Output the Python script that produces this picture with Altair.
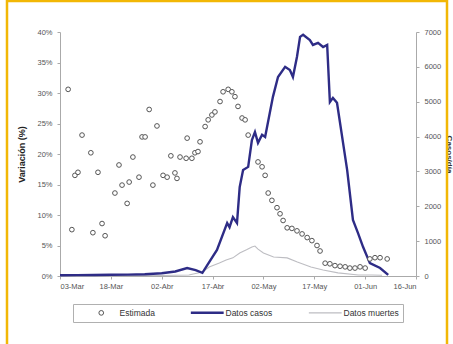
import altair as alt
import pandas as pd

series = ["Estimada", "Datos casos", "Datos muertes"]
x_labels = ["03-Mar", "18-Mar", "02-Abr", "17-Abr", "02-May", "17-May", "01-Jun", "16-Jun"]

# Estimated (%), left axis: day offset from 03-Mar, value in %
est_day = [2.4, 3.5, 4.4, 5.3, 6.5, 9.1, 9.7, 11.2, 12.4, 13.3, 16.2, 17.4, 18.3, 19.8, 20.4,
           21.5, 23.3, 24.2, 25.1, 26.3, 27.4, 28.6, 30.4, 31.6, 32.7, 33.9, 34.5, 35.4, 37.2,
           37.5, 38.9, 39.8, 40.7, 41.3, 42.8, 43.7, 44.8, 45.7, 47.2, 48.1, 49.6, 50.7, 51.6,
           52.5, 53.7, 54.6, 55.5, 58.4, 59.6, 60.5, 61.4, 62.5, 64.0, 64.9, 65.8, 67.0, 68.4,
           69.9, 71.4, 72.9, 74.3, 75.8, 76.7, 78.2, 79.6, 81.1, 82.6, 84.1, 85.5, 87.0, 88.5,
           90.0, 91.4, 92.9, 94.4, 96.5]
est_val = [30.6, 7.6, 16.5, 17.0, 23.1, 20.2, 7.1, 17.0, 8.6, 6.6, 13.6, 18.2, 14.9, 11.9, 15.4,
           19.5, 16.2, 22.8, 22.8, 27.3, 14.9, 24.6, 16.5, 16.2, 19.7, 16.9, 16.0, 19.5, 19.3,
           22.6, 19.3, 20.2, 20.4, 22.0, 24.5, 25.6, 26.4, 26.9, 28.6, 30.2, 30.6, 30.2, 29.4,
           27.8, 25.9, 25.6, 23.1, 18.7, 17.9, 16.5, 13.6, 12.4, 11.2, 10.2, 9.1, 7.9, 7.8,
           7.4, 6.9, 6.3, 5.8, 5.0, 4.1, 2.1, 2.0, 1.7, 1.6, 1.5, 1.3, 1.3, 1.5,
           1.3, 2.8, 3.0, 3.0, 2.8]

# Cases, right axis
cases_day = [0, 5, 10, 15, 20, 25, 30, 34, 37.5, 40, 42, 44, 46.3, 49.3, 50, 51, 52.2, 53, 54,
             55.5, 56.6, 57.5, 58.4, 59.6, 60.5, 62.8, 64.3, 66.4, 67.8, 68.7, 69.9, 70.8, 71.7,
             73.7, 74.6, 76.1, 77.6, 78.8, 79.6, 80.5, 81.7, 84.7, 86.4, 87.9, 89.4, 91.4, 94.4, 96.8]
cases_val = [20, 25, 30, 35, 40, 50, 80, 130, 230, 170, 90, 400, 750, 1520, 1400, 1690, 1520, 2550, 3040,
             3130, 3900, 4130, 3820, 4050, 3990, 5140, 5710, 6000, 5910, 5710, 6290, 6860, 6920,
             6770, 6630, 6690, 6570, 6630, 4990, 5110, 4970, 3040, 1610, 1230, 830, 370, 230, 30]

# Deaths, right axis
deaths_day = [0, 10, 20, 30, 38, 42, 44, 47, 49, 51, 53, 55, 56.6, 57.5, 58.4, 60, 63, 67, 70,
              74, 77.6, 82, 88, 92, 95]
deaths_val = [0, 5, 10, 15, 30, 115, 260, 370, 460, 520, 660, 750, 830, 860, 770, 660, 545, 520, 400,
              260, 170, 90, 30, 30, 20]

est_df = pd.DataFrame({"day": est_day, "value": est_val, "serie": "Estimada"})
lines_df = pd.concat([
    pd.DataFrame({"day": deaths_day, "value": deaths_val, "serie": "Datos muertes"}),
    pd.DataFrame({"day": cases_day, "value": cases_val, "serie": "Datos casos"}),
])

colors = ["#555555", "#2E2C86", "#bdbdc2"]
line_sym = "M-7,0H7"
color = alt.Color("serie:N", scale=alt.Scale(domain=series, range=colors),
                  legend=alt.Legend(title=None, orient="none", legendX=13, legendY=272,
                                    direction="horizontal", columns=3, strokeColor="#b0b0b0",
                                    padding=4, labelFontSize=8.5, labelColor="#333",
                                    columnPadding=28, symbolOffset=20, labelOffset=14,
                                    symbolSize=22))
stroke_w = alt.StrokeWidth("serie:N",
                           scale=alt.Scale(type="ordinal", domain=series, range=[1, 2.4, 1.1]),
                           legend=alt.Legend(title=None))

xenc = alt.X("day:Q", scale=alt.Scale(domain=[0, 105], nice=False),
             axis=alt.Axis(values=list(range(0, 106, 15)), title=None,
                           labelExpr="%s[round(datum.value/15)]" % str(x_labels),
                           labelFontSize=7.5, labelColor="#555", domainColor="#aaa",
                           tickColor="#aaa", tickSize=3, grid=False, labelPadding=3))

pts = alt.Chart(est_df).mark_point(filled=False, fill="white", fillOpacity=1, opacity=1, size=22).encode(
    x=xenc,
    y=alt.Y("value:Q", scale=alt.Scale(domain=[0, 40], nice=False),
            axis=alt.Axis(orient="left", values=list(range(0, 41, 5)), labelExpr="datum.value + '%'",
                          title="Variación (%)", titleFontSize=9, titleColor="#222",
                          titleFontWeight="bold", labelFontSize=7.5, labelColor="#555",
                          domainColor="#aaa", tickColor="#aaa", tickSize=3, grid=False,
                          labelPadding=5, titlePadding=10)),
    color=color,
    shape=alt.Shape("serie:N", scale=alt.Scale(domain=series, range=["circle", line_sym, line_sym]),
                    legend=alt.Legend(title=None)),
    strokeWidth=stroke_w,
)

lines = alt.Chart(lines_df).mark_line().encode(
    x=xenc,
    y=alt.Y("value:Q", scale=alt.Scale(domain=[0, 7000], nice=False),
            axis=alt.Axis(orient="right", values=list(range(0, 7001, 1000)), format="d",
                          title="Casos/día",
                          titleFontSize=8, titleColor="#333", labelFontSize=7.5, labelColor="#555",
                          domainColor="#aaa", tickColor="#aaa", tickSize=3, grid=False,
                          labelPadding=5, titlePadding=4)),
    color=color,
    strokeWidth=stroke_w,
    detail="serie:N",
)

frame = alt.Chart(alt.Data(values=[{}])).mark_rect(
    fill=None, stroke="#F2B705", strokeWidth=2.5, clip=False).encode(
    x=alt.value(-53), x2=alt.value(387), y=alt.value(-31), y2=alt.value(330))

chart = alt.layer(lines, pts, frame).resolve_scale(y="independent").properties(
    width=356, height=244,
    autosize=alt.AutoSizeParams(type="none"),
    padding={"left": 60, "top": 32, "right": 37, "bottom": 68},
    background="white",
).configure_view(stroke=None).configure_axis(labelFont="Liberation Sans", titleFont="Liberation Sans"
).configure_legend(labelFont="Liberation Sans")

chart.save("out.html", embed_options={"renderer": "svg", "actions": False})
